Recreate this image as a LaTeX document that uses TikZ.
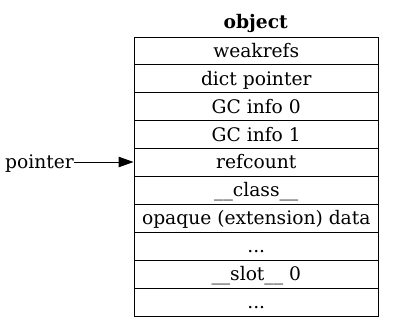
\documentclass[tikz,border=0pt]{standalone}
\usepackage{fontspec}
\setmainfont{DejaVu Serif}
\usetikzlibrary{arrows.meta}
\begin{document}
\begin{tikzpicture}[x=1pt,y=-1pt,
  txt/.style={font=\fontsize{18.67}{22}\selectfont, inner sep=0pt, text height=14pt, text depth=1.6pt},
  cell/.style={txt, draw, line width=1pt, minimum width=244.5pt, minimum height=27.95pt, anchor=north west},
  ptr/.style={-{Triangle[length=15pt,width=10.5pt]}, line width=1pt}]
\useasboundingbox (0,0) rectangle (393,327);
\node[font=\fontsize{18.67}{22}\selectfont\bfseries, inner sep=0pt, anchor=base] (title) at (255.75,28.3) {object};
\node[cell] (r1) at (133.5,36.5) {weakrefs};
\node[cell] (r2) at (133.5,64.45) {dict pointer};
\node[cell] (r3) at (133.5,92.4) {GC info 0};
\node[cell] (r4) at (133.5,120.35) {GC info 1};
\node[cell] (r5) at (133.5,148.3) {refcount};
\node[cell] (r6) at (133.5,176.25) {\_\_class\_\_};
\node[cell] (r7) at (133.5,204.2) {opaque (extension) data};
\node[cell] (r8) at (133.5,232.15) {...};
\node[cell] (r9) at (133.5,260.1) {\_\_slot\_\_ 0};
\node[cell] (r10) at (133.5,288.05) {...};
\node[txt, anchor=east] (p) at (74,162) {pointer};
\draw[ptr] (p.east) -- (p.east -| r5.west);
\end{tikzpicture}
\end{document}
